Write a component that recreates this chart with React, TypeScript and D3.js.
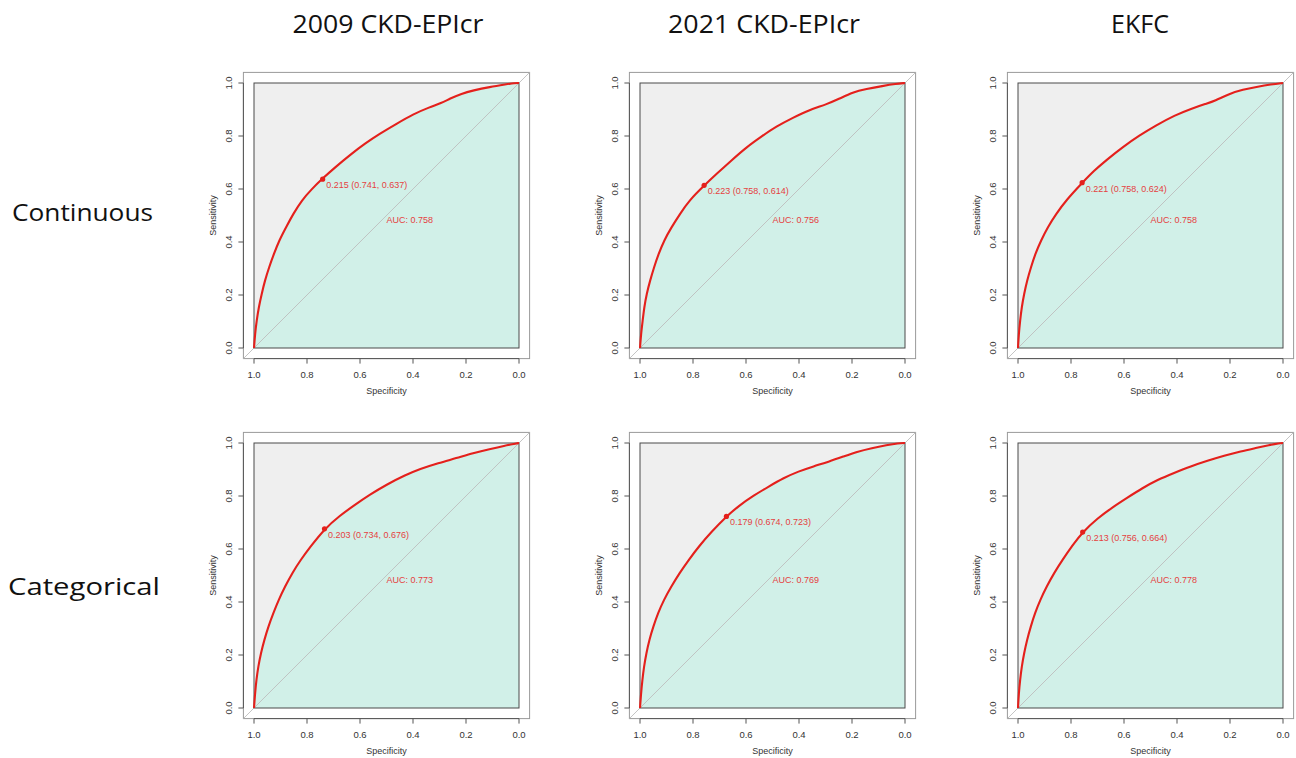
import * as d3 from "d3";

const titles = ["2009 CKD-EPIcr", "2021 CKD-EPIcr", "EKFC"];
const rowLabels = ["Continuous", "Categorical"];
const ticks = [0, 0.2, 0.4, 0.6, 0.8, 1.0];

// ROC curves (specificity, sensitivity)
const spec2009Cont = [1, 0.996, 0.99, 0.982, 0.971, 0.959, 0.943, 0.925, 0.905, 0.879, 0.852, 0.82, 0.783, 0.742, 0.695, 0.632, 0.582, 0.525, 0.462, 0.4, 0.337, 0.293, 0.261, 0.217, 0.173, 0.111, 0.048, 0.016, 0];
const sens2009Cont = [0, 0.053, 0.103, 0.154, 0.204, 0.254, 0.305, 0.355, 0.406, 0.456, 0.506, 0.557, 0.599, 0.639, 0.681, 0.733, 0.771, 0.809, 0.846, 0.882, 0.909, 0.924, 0.941, 0.96, 0.972, 0.985, 0.995, 1, 1];

const spec2021Cont = [1, 0.996, 0.99, 0.984, 0.975, 0.962, 0.947, 0.93, 0.909, 0.881, 0.849, 0.814, 0.758, 0.711, 0.655, 0.598, 0.542, 0.486, 0.423, 0.36, 0.297, 0.247, 0.197, 0.147, 0.084, 0.034, 0];
const sens2021Cont = [0, 0.053, 0.103, 0.154, 0.204, 0.254, 0.305, 0.355, 0.406, 0.456, 0.506, 0.557, 0.613, 0.657, 0.708, 0.758, 0.798, 0.836, 0.869, 0.899, 0.919, 0.941, 0.965, 0.977, 0.989, 0.997, 1];

const specEkfcCont = [1, 0.997, 0.992, 0.986, 0.977, 0.966, 0.951, 0.935, 0.913, 0.888, 0.856, 0.819, 0.758, 0.712, 0.668, 0.605, 0.542, 0.479, 0.409, 0.346, 0.29, 0.258, 0.202, 0.151, 0.101, 0.044, 0];
const sensEkfcCont = [0, 0.053, 0.103, 0.154, 0.204, 0.254, 0.305, 0.355, 0.406, 0.456, 0.506, 0.557, 0.623, 0.67, 0.708, 0.758, 0.802, 0.84, 0.878, 0.903, 0.922, 0.932, 0.96, 0.975, 0.985, 0.995, 1];

const spec2009Cat = [1, 0.996, 0.991, 0.984, 0.974, 0.961, 0.946, 0.927, 0.907, 0.883, 0.856, 0.824, 0.789, 0.735, 0.676, 0.619, 0.563, 0.5, 0.431, 0.374, 0.305, 0.236, 0.173, 0.111, 0.054, 0.016, 0];
const sens2009Cat = [0, 0.055, 0.106, 0.156, 0.207, 0.257, 0.307, 0.358, 0.408, 0.458, 0.509, 0.559, 0.606, 0.675, 0.726, 0.767, 0.805, 0.843, 0.878, 0.902, 0.924, 0.943, 0.962, 0.977, 0.99, 0.997, 1];

const spec2021Cat = [1, 0.996, 0.991, 0.985, 0.976, 0.965, 0.95, 0.932, 0.91, 0.882, 0.851, 0.816, 0.778, 0.731, 0.674, 0.627, 0.571, 0.514, 0.458, 0.402, 0.345, 0.289, 0.232, 0.182, 0.125, 0.069, 0.025, 0];
const sens2021Cat = [0, 0.055, 0.106, 0.156, 0.207, 0.257, 0.307, 0.358, 0.408, 0.458, 0.509, 0.559, 0.61, 0.664, 0.723, 0.763, 0.802, 0.836, 0.868, 0.893, 0.912, 0.929, 0.949, 0.967, 0.981, 0.992, 0.999, 1];

const specEkfcCat = [1, 0.997, 0.992, 0.986, 0.977, 0.966, 0.952, 0.936, 0.916, 0.892, 0.864, 0.832, 0.795, 0.756, 0.7, 0.644, 0.587, 0.53, 0.474, 0.411, 0.348, 0.285, 0.222, 0.159, 0.102, 0.052, 0.014, 0];
const sensEkfcCat = [0, 0.055, 0.106, 0.156, 0.207, 0.257, 0.307, 0.358, 0.408, 0.458, 0.509, 0.559, 0.613, 0.664, 0.716, 0.757, 0.794, 0.83, 0.861, 0.887, 0.912, 0.933, 0.952, 0.969, 0.981, 0.992, 0.999, 1];

const thresholds = ["0.215", "0.223", "0.221", "0.203", "0.179", "0.213"];
const bestSpec = [0.741, 0.758, 0.758, 0.734, 0.674, 0.756];
const bestSens = [0.637, 0.614, 0.624, 0.676, 0.723, 0.664];
const aucValues = ["0.758", "0.756", "0.758", "0.773", "0.769", "0.778"];

const curves = [
  [spec2009Cont, sens2009Cont],
  [spec2021Cont, sens2021Cont],
  [specEkfcCont, sensEkfcCont],
  [spec2009Cat, sens2009Cat],
  [spec2021Cat, sens2021Cat],
  [specEkfcCat, sensEkfcCat],
];

const colLeft = [254, 640, 1018];
const rowTop = [83, 443];
const size = 265;
const titleX = [388, 764, 1140];
const titleW = [191, 192, 58];

const red = "#e4201c";
const redText = "#e5413f";
const axisFont = "Liberation Sans, Arial, sans-serif";

function Panel({ idx }: { idx: number }) {
  const left = colLeft[idx % 3];
  const top = rowTop[Math.floor(idx / 3)];
  const x = d3.scaleLinear().domain([1, 0]).range([left, left + size]);
  const y = d3.scaleLinear().domain([0, 1]).range([top + size, top]);
  const [spec, sens] = curves[idx];
  const pts: [number, number][] = spec.map((s, k) => [s, sens[k]]);
  const line = d3.line<[number, number]>().x(d => x(d[0])).y(d => y(d[1])).curve(d3.curveBasis);
  const area = d3.area<[number, number]>().x(d => x(d[0])).y0(y(0)).y1(d => y(d[1])).curve(d3.curveBasis);
  const ox0 = x(1.04), ox1 = x(-0.04), oy0 = y(1.04), oy1 = y(-0.04);
  const px = x(bestSpec[idx]), py = y(bestSens[idx]);
  return (
    <g>
      <rect x={ox0} y={oy0} width={ox1 - ox0} height={oy1 - oy0} fill="none" stroke="#9a9a9a" strokeWidth={1} />
      <rect x={x(1)} y={y(1)} width={x(0) - x(1)} height={y(0) - y(1)} fill="#efefef" />
      <path d={area(pts) || ""} fill="#d1f0e8" />
      <line x1={x(1.04)} y1={y(-0.04)} x2={x(-0.04)} y2={y(1.04)} stroke="#bdbdbd" strokeWidth={0.9} />
      <rect x={x(1)} y={y(1)} width={x(0) - x(1)} height={y(0) - y(1)} fill="none" stroke="#4a4a4a" strokeWidth={1} />
      <path d={line(pts) || ""} fill="none" stroke={red} strokeWidth={2.1} />
      <circle cx={px} cy={py} r={2.6} fill={red} />
      <text x={px + 3.5} y={py + 9} fontSize={9} fill={redText} fontFamily={axisFont}>
        {`${thresholds[idx]} (${bestSpec[idx].toFixed(3)}, ${bestSens[idx].toFixed(3)})`}
      </text>
      <text x={x(0.5)} y={y(0.5) + 7.5} fontSize={9} fill={redText} fontFamily={axisFont}>
        {`AUC: ${aucValues[idx]}`}
      </text>
      {/* x axis */}
      <line x1={x(1)} x2={x(0)} y1={oy1} y2={oy1} stroke="#555" />
      {ticks.map(t => (
        <g key={"x" + t}>
          <line x1={x(t)} x2={x(t)} y1={oy1} y2={oy1 + 5} stroke="#555" />
          <text x={x(t)} y={oy1 + 19} textAnchor="middle" fontSize={9.5} fill="#333" fontFamily={axisFont}>
            {t.toFixed(1)}
          </text>
        </g>
      ))}
      <text x={x(0.5)} y={oy1 + 35} textAnchor="middle" fontSize={9} fill="#333" fontFamily={axisFont}>
        Specificity
      </text>
      {/* y axis */}
      <line x1={ox0} x2={ox0} y1={y(0)} y2={y(1)} stroke="#555" />
      {ticks.map(t => (
        <g key={"y" + t}>
          <line x1={ox0} x2={ox0 - 5} y1={y(t)} y2={y(t)} stroke="#555" />
          <text transform={`translate(${ox0 - 11},${y(t)}) rotate(-90)`} textAnchor="middle" fontSize={9.5} fill="#333" fontFamily={axisFont}>
            {t.toFixed(1)}
          </text>
        </g>
      ))}
      <text transform={`translate(${ox0 - 27.5},${y(0.5)}) rotate(-90)`} textAnchor="middle" fontSize={9} fill="#333" fontFamily={axisFont}>
        Sensitivity
      </text>
    </g>
  );
}

export default function App() {
  return (
    <div style={{ position: "fixed", left: 0, top: 0 }}>
      <svg width={1296} height={758} style={{ display: "block", background: "#fff" }}>
        {titles.map((t, i) => (
          <text key={t} x={titleX[i]} y={33} textAnchor="middle" fontSize={25} textLength={titleW[i]} lengthAdjust="spacingAndGlyphs" fontFamily="Open Sans, sans-serif" fill="#111">
            {t}
          </text>
        ))}
        <text x={12} y={221} fontSize={23} textLength={141} lengthAdjust="spacingAndGlyphs" fontFamily="Open Sans, sans-serif" fill="#111">{rowLabels[0]}</text>
        <text x={8} y={595} fontSize={23} textLength={152} lengthAdjust="spacingAndGlyphs" fontFamily="Open Sans, sans-serif" fill="#111">{rowLabels[1]}</text>
        {curves.map((_, i) => <Panel key={i} idx={i} />)}
      </svg>
    </div>
  );
}
